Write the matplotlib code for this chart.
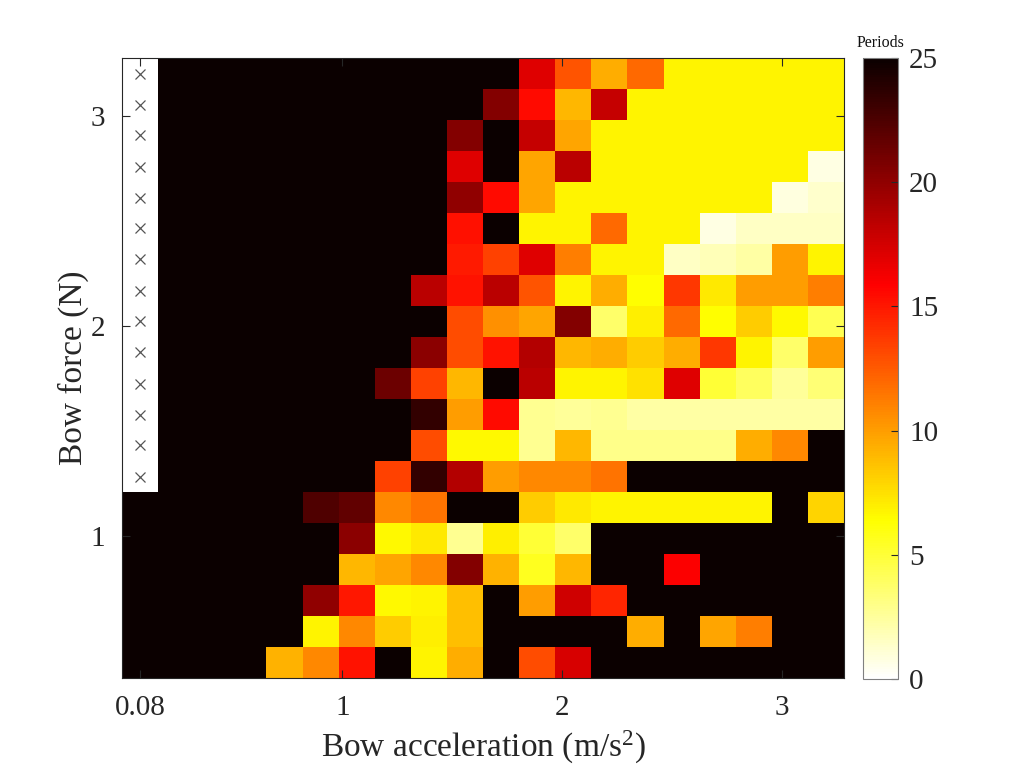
import numpy as np
import matplotlib
matplotlib.use("Agg")
import matplotlib.pyplot as plt

plt.rcParams['font.family'] = ['Liberation Serif', 'DejaVu Serif']
plt.rcParams['mathtext.default'] = 'regular'

# Bow acceleration (m/s^2) - column centres
bow_acc = [0.08, 0.2442, 0.4084, 0.5726, 0.7368, 0.9011, 1.0653, 1.2295, 1.3937, 1.5579,
           1.7221, 1.8863, 2.0505, 2.2147, 2.3789, 2.5432, 2.7074, 2.8716, 3.0358, 3.2]
# Bow force (N) - row centres, listed from top (3.2) to bottom (0.4)
bow_force = [3.2, 3.0526, 2.9053, 2.7579, 2.6105, 2.4632, 2.3158, 2.1684, 2.0211, 1.8737,
             1.7263, 1.5789, 1.4316, 1.2842, 1.1368, 0.9895, 0.8421, 0.6947, 0.5474, 0.4]

N = np.nan
# Periods, one row per bow force (top row first), one value per bow acceleration
periods = [
    [N, 25, 25, 25, 25, 25, 25, 25, 25, 25, 25, 17, 12.7, 9.4, 12, 6.8, 6.8, 6.8, 6.8, 6.8],
    [N, 25, 25, 25, 25, 25, 25, 25, 25, 25, 20.5, 15.5, 9, 18, 6.8, 6.8, 6.8, 6.8, 6.8, 6.8],
    [N, 25, 25, 25, 25, 25, 25, 25, 25, 20.5, 25, 18, 9.7, 6.8, 6.8, 6.8, 6.8, 6.8, 6.8, 6.8],
    [N, 25, 25, 25, 25, 25, 25, 25, 25, 17, 25, 9.7, 18.4, 6.8, 6.8, 6.8, 6.8, 6.8, 6.8, 0.7],
    [N, 25, 25, 25, 25, 25, 25, 25, 25, 20, 15.5, 9.7, 6.8, 6.8, 6.8, 6.8, 6.8, 6.8, 0.8, 1.3],
    [N, 25, 25, 25, 25, 25, 25, 25, 25, 15.3, 25, 6.8, 6.8, 12, 6.8, 6.8, 0.7, 1.5, 1.5, 1.5],
    [N, 25, 25, 25, 25, 25, 25, 25, 25, 14.9, 13.4, 17, 11.2, 6.8, 6.8, 1.5, 1.8, 2.3, 10, 6.8],
    [N, 25, 25, 25, 25, 25, 25, 25, 18.4, 15.2, 18.4, 12.7, 6.8, 9.4, 6.4, 13.8, 7.2, 10, 10, 11.2],
    [N, 25, 25, 25, 25, 25, 25, 25, 25, 13, 10.5, 9.7, 20.5, 3.8, 7, 12, 6.4, 8.3, 6.6, 4.3],
    [N, 25, 25, 25, 25, 25, 25, 25, 20.2, 13, 15.2, 18.7, 9, 9.4, 8.3, 9.4, 13.8, 6.8, 3.8, 10],
    [N, 25, 25, 25, 25, 25, 25, 21.3, 13.4, 9, 25, 18.4, 6.8, 6.8, 7.5, 17, 5, 4.1, 2.6, 3.5],
    [N, 25, 25, 25, 25, 25, 25, 25, 23.5, 10, 15.5, 2.8, 2.6, 2.8, 2.3, 2.3, 2.3, 2.3, 2.3, 2.3],
    [N, 25, 25, 25, 25, 25, 25, 25, 13, 6.6, 6.6, 2.8, 9, 3, 3, 3, 3, 9.4, 10.8, 25],
    [N, 25, 25, 25, 25, 25, 25, 13.4, 23.5, 18.7, 10, 10.8, 10.8, 11.6, 25, 25, 25, 25, 25, 25],
    [25, 25, 25, 25, 25, 22.4, 21.7, 10.8, 11.6, 25, 25, 8.3, 7.2, 6.8, 6.8, 6.8, 6.8, 6.8, 25, 8],
    [25, 25, 25, 25, 25, 25, 20.2, 6.6, 7.2, 2.8, 7, 5, 3.8, 25, 25, 25, 25, 25, 25, 25],
    [25, 25, 25, 25, 25, 25, 9, 9.7, 10.8, 20.5, 9.2, 5.6, 9, 25, 25, 16, 25, 25, 25, 25],
    [25, 25, 25, 25, 25, 20, 15, 6.6, 6.8, 8.7, 25, 10, 17.6, 14.5, 25, 25, 25, 25, 25, 25],
    [25, 25, 25, 25, 25, 6.8, 10.8, 8.3, 7, 8.7, 25, 25, 25, 25, 9.4, 25, 9.7, 11.2, 25, 25],
    [25, 25, 25, 25, 9.2, 10.8, 15.2, 25, 6.8, 9.4, 25, 13, 17.3, 25, 25, 25, 25, 25, 25, 25],
]

x_ticks = [0.08, 1, 2, 3]
x_ticklabels = ['0.08', '1', '2', '3']
y_ticks = [1, 2, 3]
cbar_ticks = [0, 5, 10, 15, 20, 25]

x = np.array(bow_acc)
y = np.array(bow_force)[::-1]
Z = np.array(periods, dtype=float)[::-1]
Zm = np.ma.masked_invalid(Z)

fig = plt.figure(figsize=(10.24, 7.68), dpi=100)
ax = fig.add_axes([122/1024, 1 - 678/768, 722/1024, 620/768])
mesh = ax.pcolormesh(x, y, Zm, shading='nearest', cmap='hot_r', vmin=0, vmax=25)

# cross markers where no data
iy, ix = np.where(np.isnan(Z))
ax.plot(x[ix], y[iy], linestyle='none', marker='x', color='#555555',
        markersize=6.5, markeredgewidth=0.9)

dx = (x[1] - x[0]) / 2
dy = (y[1] - y[0]) / 2
ax.set_xlim(x[0] - dx, x[-1] + dx)
ax.set_ylim(y[0] - dy, y[-1] + dy)

ax.set_xticks(x_ticks)
ax.set_xticklabels(x_ticklabels)
ax.set_yticks(y_ticks)
ax.tick_params(direction='in', length=6, width=0.8, top=True, right=True,
               labelsize=21, colors='#262626', pad=12)
for s in ax.spines.values():
    s.set_color('#262626')
    s.set_linewidth(0.8)

ax.set_xlabel('Bow acceleration (m/s$^{2}$)', fontsize=24, color='#262626', labelpad=6)
ax.set_ylabel('Bow force (N)', fontsize=24, color='#262626', labelpad=1.5)

cax = fig.add_axes([863/1024, 1 - 679/768, 35/1024, 621/768])
cb = fig.colorbar(mesh, cax=cax, ticks=cbar_ticks)
cb.ax.tick_params(direction='in', length=5, width=0.8, labelsize=21,
                  colors='#262626', pad=8)
cb.outline.set_edgecolor('#808080')
cb.outline.set_linewidth(0.8)
cax.text(0.5, 1.012, 'Periods', transform=cax.transAxes, ha='center', va='bottom',
         fontsize=11.5, color='#111111')

fig.savefig('out.png', dpi=100)
